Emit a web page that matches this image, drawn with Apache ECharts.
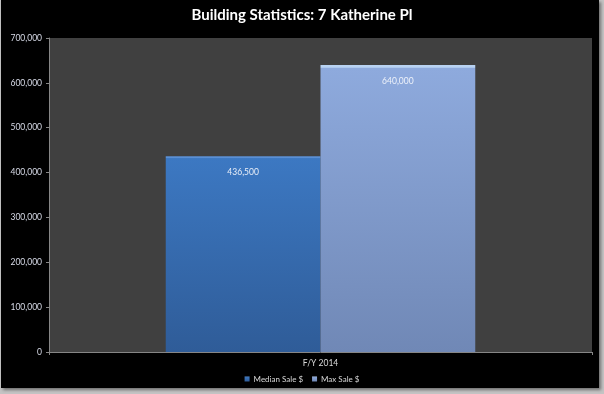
<!DOCTYPE html>
<html>
<head>
<meta charset="utf-8">
<script src="https://cdn.jsdelivr.net/npm/echarts@6/dist/echarts.min.js"></script>
<style>
html,body{margin:0;padding:0;width:604px;height:394px;overflow:hidden;background:#c4c4c4;}
#bg{position:absolute;left:1px;top:0;width:598px;height:388px;background:#000;box-shadow:2px 2px 3px #707070;}
#c{position:absolute;left:0;top:0;width:604px;height:394px;}
</style>
</head>
<body>
<div id="bg"></div>
<div id="c"></div>
<script>
var titleText = 'Building Statistics: 7 Katherine Pl';
var categories = ['F/Y 2014'];
var seriesNames = ['Median Sale $', 'Max Sale $'];
var medianSale = [436500];
var maxSale = [640000];
var yTicks = [0, 100000, 200000, 300000, 400000, 500000, 600000, 700000];

function fmt(v){ return String(v).replace(/\B(?=(\d{3})+(?!\d))/g, ','); }

var chart = echarts.init(document.getElementById('c'), null, {renderer:'canvas'});
var font = 'Lato, "Open Sans", sans-serif';
function grad(top, bottom, edge){
  return new echarts.graphic.LinearGradient(0,0,0,1,[
    {offset:0,color:edge},{offset:0.008,color:edge},{offset:0.012,color:top},{offset:1,color:bottom}
  ]);
}
chart.setOption({
  backgroundColor:'transparent',
  animation:false,
  title:{text:titleText,left:'center',top:3,textStyle:{color:'#ffffff',fontFamily:font,fontWeight:'bold',fontSize:15}},
  grid:{left:49,right:12,top:38,bottom:42,show:true,backgroundColor:'#404040',borderWidth:0},
  legend:{bottom:6,left:'center',itemWidth:5,itemHeight:5,itemGap:9,icon:'rect',
    textStyle:{color:'#d9d9d9',fontFamily:font,fontSize:8,padding:[0,0,0,-1]},data:seriesNames},
  xAxis:{type:'category',data:categories,
    axisLine:{lineStyle:{color:'#868686'}},
    axisTick:{show:true,length:3,lineStyle:{color:'#868686'}},
    axisLabel:{color:'#d9d9d9',fontFamily:font,fontSize:8.5,margin:7}},
  yAxis:{type:'value',min:yTicks[0],max:yTicks[yTicks.length-1],interval:100000,
    axisLine:{show:true,lineStyle:{color:'#868686'}},
    axisTick:{show:true,length:3,lineStyle:{color:'#868686'}},
    splitLine:{show:false},
    axisLabel:{color:'#d8dbe8',fontFamily:font,fontSize:8.5,margin:7,formatter:function(v){return fmt(v);}}},
  series:[
    {name:seriesNames[0],type:'bar',data:medianSale,barGap:'0%',barCategoryGap:'43%',
      itemStyle:{color:grad('#3c78c2','#2f5c98','#5a8fd4')},
      label:{show:true,position:'insideTop',distance:12,color:'#e8eef8',fontFamily:font,fontSize:8.5,formatter:function(p){return fmt(p.value);}}},
    {name:seriesNames[1],type:'bar',data:maxSale,
      itemStyle:{color:grad('#8eaadd','#7088b6','#b8d2f2')},
      label:{show:true,position:'insideTop',distance:12,color:'#eef2fa',fontFamily:font,fontSize:8.5,formatter:function(p){return fmt(p.value);}}}
  ]
});
</script>
</body>
</html>
